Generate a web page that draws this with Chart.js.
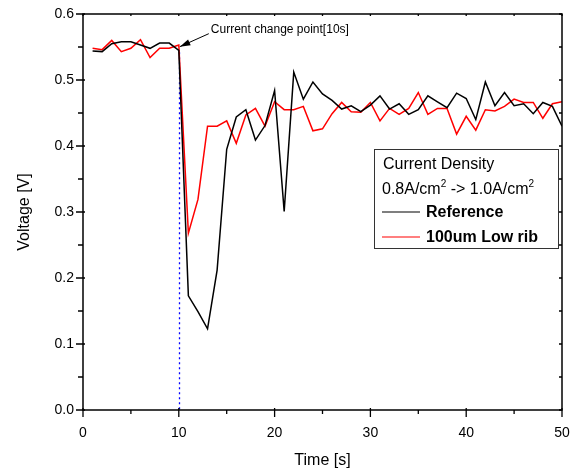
<!DOCTYPE html>
<html>
<head>
<meta charset="utf-8">
<script src="https://cdn.jsdelivr.net/npm/chart.js@4/dist/chart.umd.min.js"></script>
<style>
	html, body { margin: 0; padding: 0; background: #fff; }
	#wrap { width: 576px; height: 473px; }
</style>
</head>
<body>
<div id="wrap"><canvas id="myChart" width="576" height="473"></canvas></div>
<script>
//data
var times = [1, 2, 3, 4, 5, 6, 7, 8, 9, 10, 11, 12, 13, 14, 15, 16, 17, 18, 19, 20,
	21, 22, 23, 24, 25, 26, 27, 28, 29, 30, 31, 32, 33, 34, 35, 36, 37, 38, 39, 40,
	41, 42, 43, 44, 45, 46, 47, 48, 49, 50];
var refVoltage = [0.544, 0.543, 0.555, 0.558, 0.558, 0.553, 0.548, 0.556, 0.556, 0.545,
	0.173, 0.149, 0.123, 0.212, 0.395, 0.444, 0.455, 0.409, 0.431, 0.484,
	0.301, 0.512, 0.471, 0.497, 0.479, 0.469, 0.456, 0.461, 0.452, 0.462,
	0.476, 0.456, 0.464, 0.448, 0.455, 0.476, 0.467, 0.458, 0.480, 0.472,
	0.440, 0.497, 0.461, 0.481, 0.461, 0.464, 0.449, 0.466, 0.460, 0.430];
var lowRibVoltage = [0.548, 0.546, 0.560, 0.543, 0.548, 0.561, 0.534, 0.548, 0.548, 0.553,
	0.268, 0.319, 0.430, 0.430, 0.438, 0.404, 0.447, 0.457, 0.430, 0.467,
	0.455, 0.455, 0.460, 0.423, 0.426, 0.449, 0.466, 0.452, 0.451, 0.466,
	0.438, 0.457, 0.448, 0.457, 0.481, 0.448, 0.457, 0.457, 0.418, 0.445,
	0.424, 0.455, 0.453, 0.460, 0.471, 0.466, 0.466, 0.442, 0.464, 0.467];
var seriesNames = ['Reference', '100um Low rib'];
var changeTime = 10;
var changeVoltage = 0.552;
var xTicks = [0, 10, 20, 30, 40, 50];
var yTicks = [0.0, 0.1, 0.2, 0.3, 0.4, 0.5, 0.6];

var FONT = '"Liberation Sans", Arial, sans-serif';

function toPoints(xs, ys) {
	return xs.map(function (x, i) { return { x: x, y: ys[i] }; });
}

//frame, ticks, marker line, annotation and legend box
var decorations = {
	id: 'decorations',
	beforeDatasetsDraw: function (chart) {
		var ctx = chart.ctx, xs = chart.scales.x, ys = chart.scales.y;
		var px = Math.round(xs.getPixelForValue(changeTime)) + 0.5;
		ctx.save();
		ctx.strokeStyle = '#0000ff';
		ctx.lineWidth = 1.3;
		ctx.setLineDash([2, 3]);
		ctx.beginPath();
		ctx.moveTo(px, ys.getPixelForValue(changeVoltage - 0.01));
		ctx.lineTo(px, ys.getPixelForValue(0));
		ctx.stroke();
		ctx.restore();
	},
	afterDraw: function (chart) {
		var ctx = chart.ctx, a = chart.chartArea;
		var xs = chart.scales.x, ys = chart.scales.y;
		ctx.save();
		ctx.strokeStyle = '#000';
		ctx.lineWidth = 1.5;
		ctx.strokeRect(a.left, a.top, a.right - a.left, a.bottom - a.top);

		//x ticks every 5
		ctx.lineWidth = 1.3;
		for (var v = 0; v <= 50; v += 5) {
			var x = xs.getPixelForValue(v);
			var major = v % 10 === 0;
			ctx.beginPath();
			ctx.moveTo(x, a.bottom - (major ? 2 : 0));
			ctx.lineTo(x, a.bottom + (major ? 7 : 4));
			ctx.moveTo(x, a.top);
			ctx.lineTo(x, a.top + 2);
			ctx.stroke();
		}
		//y ticks every 0.05
		for (var k = 0; k <= 12; k++) {
			var y = ys.getPixelForValue(k * 0.05);
			var majorY = k % 2 === 0;
			ctx.beginPath();
			ctx.moveTo(a.left + (majorY ? 2 : 0), y);
			ctx.lineTo(a.left - (majorY ? 7 : 5), y);
			ctx.moveTo(a.right, y);
			ctx.lineTo(a.right - 3, y);
			ctx.stroke();
		}

		//annotation arrow
		var tipX = xs.getPixelForValue(changeTime) + 1;
		var tipY = ys.getPixelForValue(changeVoltage) + 1;
		var tailX = tipX + 29, tailY = tipY - 13;
		var ang = Math.atan2(tipY - tailY, tipX - tailX);
		ctx.lineWidth = 1;
		ctx.beginPath();
		ctx.moveTo(tailX, tailY);
		ctx.lineTo(tipX, tipY);
		ctx.stroke();
		ctx.fillStyle = '#000';
		ctx.beginPath();
		ctx.moveTo(tipX, tipY);
		ctx.lineTo(tipX - 11 * Math.cos(ang - 0.3), tipY - 11 * Math.sin(ang - 0.3));
		ctx.lineTo(tipX - 11 * Math.cos(ang + 0.3), tipY - 11 * Math.sin(ang + 0.3));
		ctx.closePath();
		ctx.fill();
		ctx.font = '12px ' + FONT;
		ctx.textBaseline = 'middle';
		ctx.fillText('Current change point[' + changeTime + 's]', tailX + 2, tailY - 4);

		//legend box
		var bx = 374, by = 149, bw = 184, bh = 99;
		ctx.fillStyle = '#fff';
		ctx.fillRect(bx, by, bw, bh);
		ctx.strokeStyle = '#333';
		ctx.lineWidth = 1;
		ctx.strokeRect(bx + 0.5, by + 0.5, bw, bh);
		ctx.fillStyle = '#000';
		ctx.textBaseline = 'alphabetic';
		ctx.font = '16px ' + FONT;
		ctx.fillText('Current Density', bx + 9, by + 20);
		var tx = bx + 8, ty = by + 45;
		var parts = ['0.8A/cm', '2', ' -> 1.0A/cm', '2'];
		parts.forEach(function (p, i) {
			if (i % 2 === 1) {
				ctx.font = '10px ' + FONT;
				ctx.fillText(p, tx, ty - 7);
			} else {
				ctx.font = '16px ' + FONT;
				ctx.fillText(p, tx, ty);
			}
			tx += ctx.measureText(p).width;
		});
		var colors = ['#000000', '#ff0000'];
		seriesNames.forEach(function (name, i) {
			var ly = by + 63 + i * 25;
			ctx.strokeStyle = colors[i];
			ctx.lineWidth = 1.2;
			ctx.beginPath();
			ctx.moveTo(bx + 8, ly);
			ctx.lineTo(bx + 46, ly);
			ctx.stroke();
			ctx.font = 'bold 16px ' + FONT;
			ctx.fillStyle = '#000';
			ctx.textBaseline = 'middle';
			ctx.fillText(name, bx + 52, ly + 1);
		});
		ctx.restore();
	}
};

var myChart = document.getElementById('myChart').getContext('2d');
var voltageChart = new Chart(myChart, {
	type: 'line',
	data: {
		datasets: [{
			label: seriesNames[0],
			data: toPoints(times, refVoltage),
			borderColor: '#000000',
			borderWidth: 1.5,
			pointRadius: 0,
			tension: 0
		}, {
			label: seriesNames[1],
			data: toPoints(times, lowRibVoltage),
			borderColor: '#ff0000',
			borderWidth: 1.5,
			pointRadius: 0,
			tension: 0
		}]
	},
	options: {
		responsive: false,
		animation: false,
		events: [],
		layout: { padding: { top: 14, right: 14, left: 0, bottom: 0 } },
		plugins: {
			legend: { display: false },
			tooltip: { enabled: false }
		},
		scales: {
			x: {
				type: 'linear',
				min: 0,
				max: 50,
				afterFit: function (s) { s.height = 63; s.paddingLeft = 0; s.paddingRight = 0; },
				afterBuildTicks: function (s) { s.ticks = xTicks.map(function (v) { return { value: v }; }); },
				grid: { display: false, drawTicks: false },
				border: { display: false },
				ticks: {
					color: '#000',
					padding: 15,
					maxRotation: 0,
					font: { family: FONT, size: 14 }
				},
				title: {
					display: true,
					text: 'Time [s]',
					color: '#000',
					padding: { top: 0, bottom: 3 },
					font: { family: FONT, size: 16 }
				}
			},
			y: {
				min: 0,
				max: 0.6,
				afterFit: function (s) { s.width = 83; s.paddingTop = 0; s.paddingBottom = 0; },
				afterBuildTicks: function (s) { s.ticks = yTicks.map(function (v) { return { value: v }; }); },
				grid: { display: false, drawTicks: false },
				border: { display: false },
				ticks: {
					color: '#000',
					padding: 9,
					font: { family: FONT, size: 14 },
					callback: function (v) { return Number(v).toFixed(1); }
				},
				title: {
					display: true,
					text: 'Voltage [V]',
					color: '#000',
					padding: { top: 15, bottom: 0 },
					font: { family: FONT, size: 16 }
				}
			}
		}
	},
	plugins: [decorations]
});
</script>
</body>
</html>
